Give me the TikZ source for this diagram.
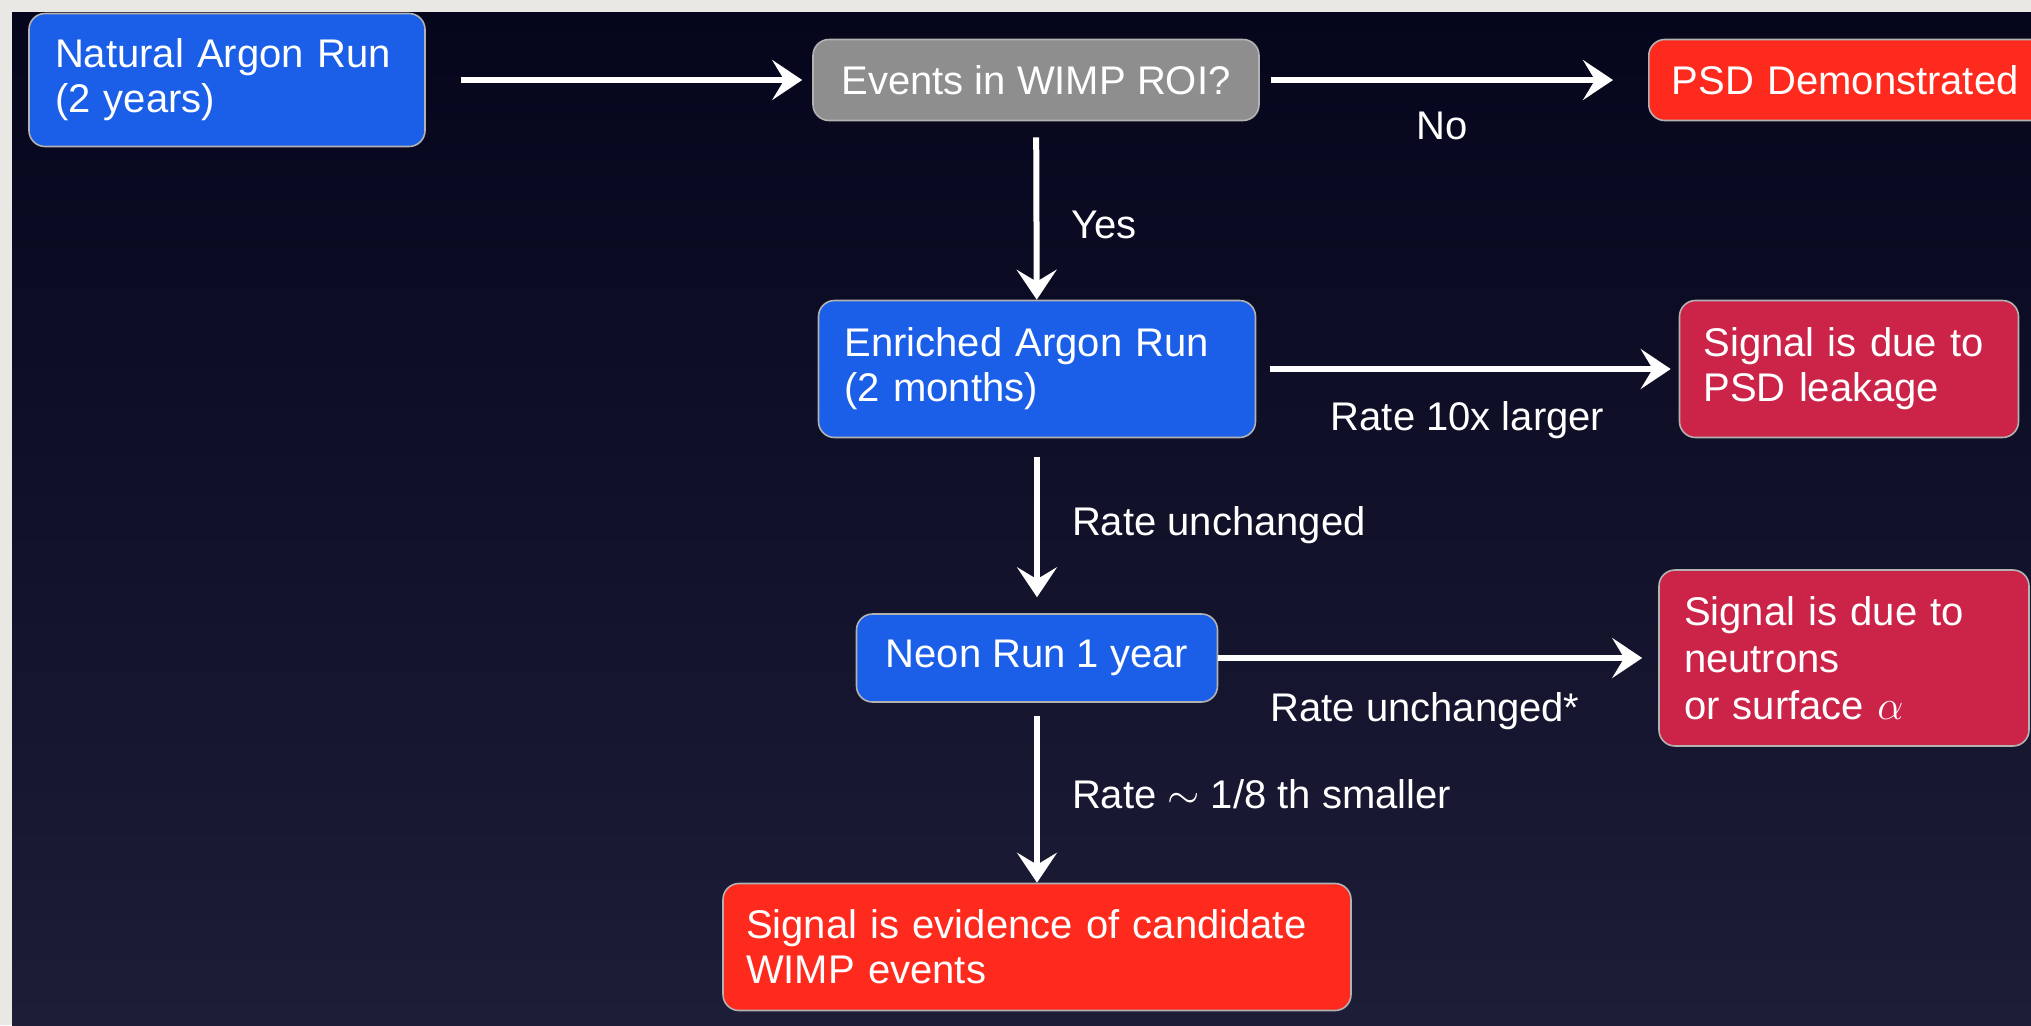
\documentclass[tikz,border=0pt]{standalone}
\usepackage{fontspec}
\setmainfont{Liberation Sans}
\usepackage{xcolor}
\usetikzlibrary{arrows.meta,positioning}
\definecolor{runblue}{HTML}{1B5FE8}
\definecolor{askgrey}{HTML}{8E8E8E}
\definecolor{endred}{HTML}{FF2A1E}
\definecolor{causered}{HTML}{CC2448}
\definecolor{slidetop}{HTML}{05051C}
\definecolor{slidebot}{HTML}{1D1D38}
\definecolor{paper}{HTML}{EAE8E4}

\begin{document}
\begin{tikzpicture}[x=0.5pt,y=-0.5pt,
  box/.style={rounded corners=8pt,draw=gray!60,line width=0.8pt,text=white,inner xsep=13pt,inner ysep=0pt,font=\fontsize{20}{22.5}\selectfont},
  flow/.style={draw=white,line width=3pt,-{Stealth[length=15pt,width=20pt,inset=6pt]}},
  lbl/.style={text=white,font=\fontsize{20}{24}\selectfont,inner sep=0pt,text height=14pt,text depth=4pt}]
\useasboundingbox (0,0) rectangle (2031,1025);
\fill[paper] (0,0) rectangle (2031,1025);
\shade[top color=slidetop,bottom color=slidebot] (12,12) rectangle (2031,1025);
% boxes
\node[box,fill=runblue,text width=172pt,minimum height=66.5pt,align=left] (nat) at (227,80) {Natural Argon Run\\(2 years)};
\node[box,fill=askgrey,minimum width=223pt,minimum height=40.5pt] (roi) at (1036,80) {Events in WIMP ROI?};
\node[box,fill=endred,anchor=west,inner xsep=11.5pt,text width=200pt,minimum height=40.5pt,align=left] (psd) at (1648,80) {PSD Demonstrated};
\node[box,fill=runblue,text width=192.5pt,minimum height=68.5pt,align=left] (enr) at (1037,369) {Enriched Argon Run\\(2 months)};
\node[box,fill=causered,inner xsep=12pt,text width=145.5pt,minimum height=68.5pt,align=left] (leak) at (1849,369) {Signal is due to\\PSD leakage};
\node[box,fill=runblue,minimum width=180.5pt,minimum height=44pt] (neon) at (1037,658) {Neon Run 1 year};
\node[box,fill=causered,inner xsep=12.5pt,text width=160pt,minimum height=88pt,align=left,font=\fontsize{20}{23.5}\selectfont] (neut) at (1844,658) {Signal is due to\\neutrons\\or surface $\alpha$};
\node[box,fill=endred,inner xsep=11.5pt,text width=291pt,minimum height=63.5pt,align=left] (evid) at (1037,947) {Signal is evidence of candidate\\WIMP events};
% arrows
\draw[flow,shorten <=17.5pt,shorten >=5pt] (nat) -- (roi);
\draw[flow,shorten <=5.5pt,shorten >=17.5pt] (roi) -- node[lbl,pos=0.47,below=14pt] (no) {No} (psd);
\draw[flow,shorten <=8pt] (roi) -- node[lbl,pos=0.6,right=16pt] (yes) {Yes} (enr);
\draw[flow,shorten <=7pt,shorten >=4pt] (enr) -- node[lbl,below=15pt] (ten) {Rate 10x larger} (leak);
\draw[flow,shorten <=9.5pt,shorten >=8pt] (enr) -- node[lbl,right=16pt] (same) {Rate unchanged} (neon);
\draw[flow,shorten >=8pt] (neon) -- node[lbl,pos=0.47,below=16pt] (samestar) {Rate unchanged*} (neut);
\draw[flow,shorten <=6.5pt] (neon) -- node[lbl,pos=0.53,right=16pt] (less) {Rate $\sim$ 1/8 th smaller} (evid);
\end{tikzpicture}
\end{document}
